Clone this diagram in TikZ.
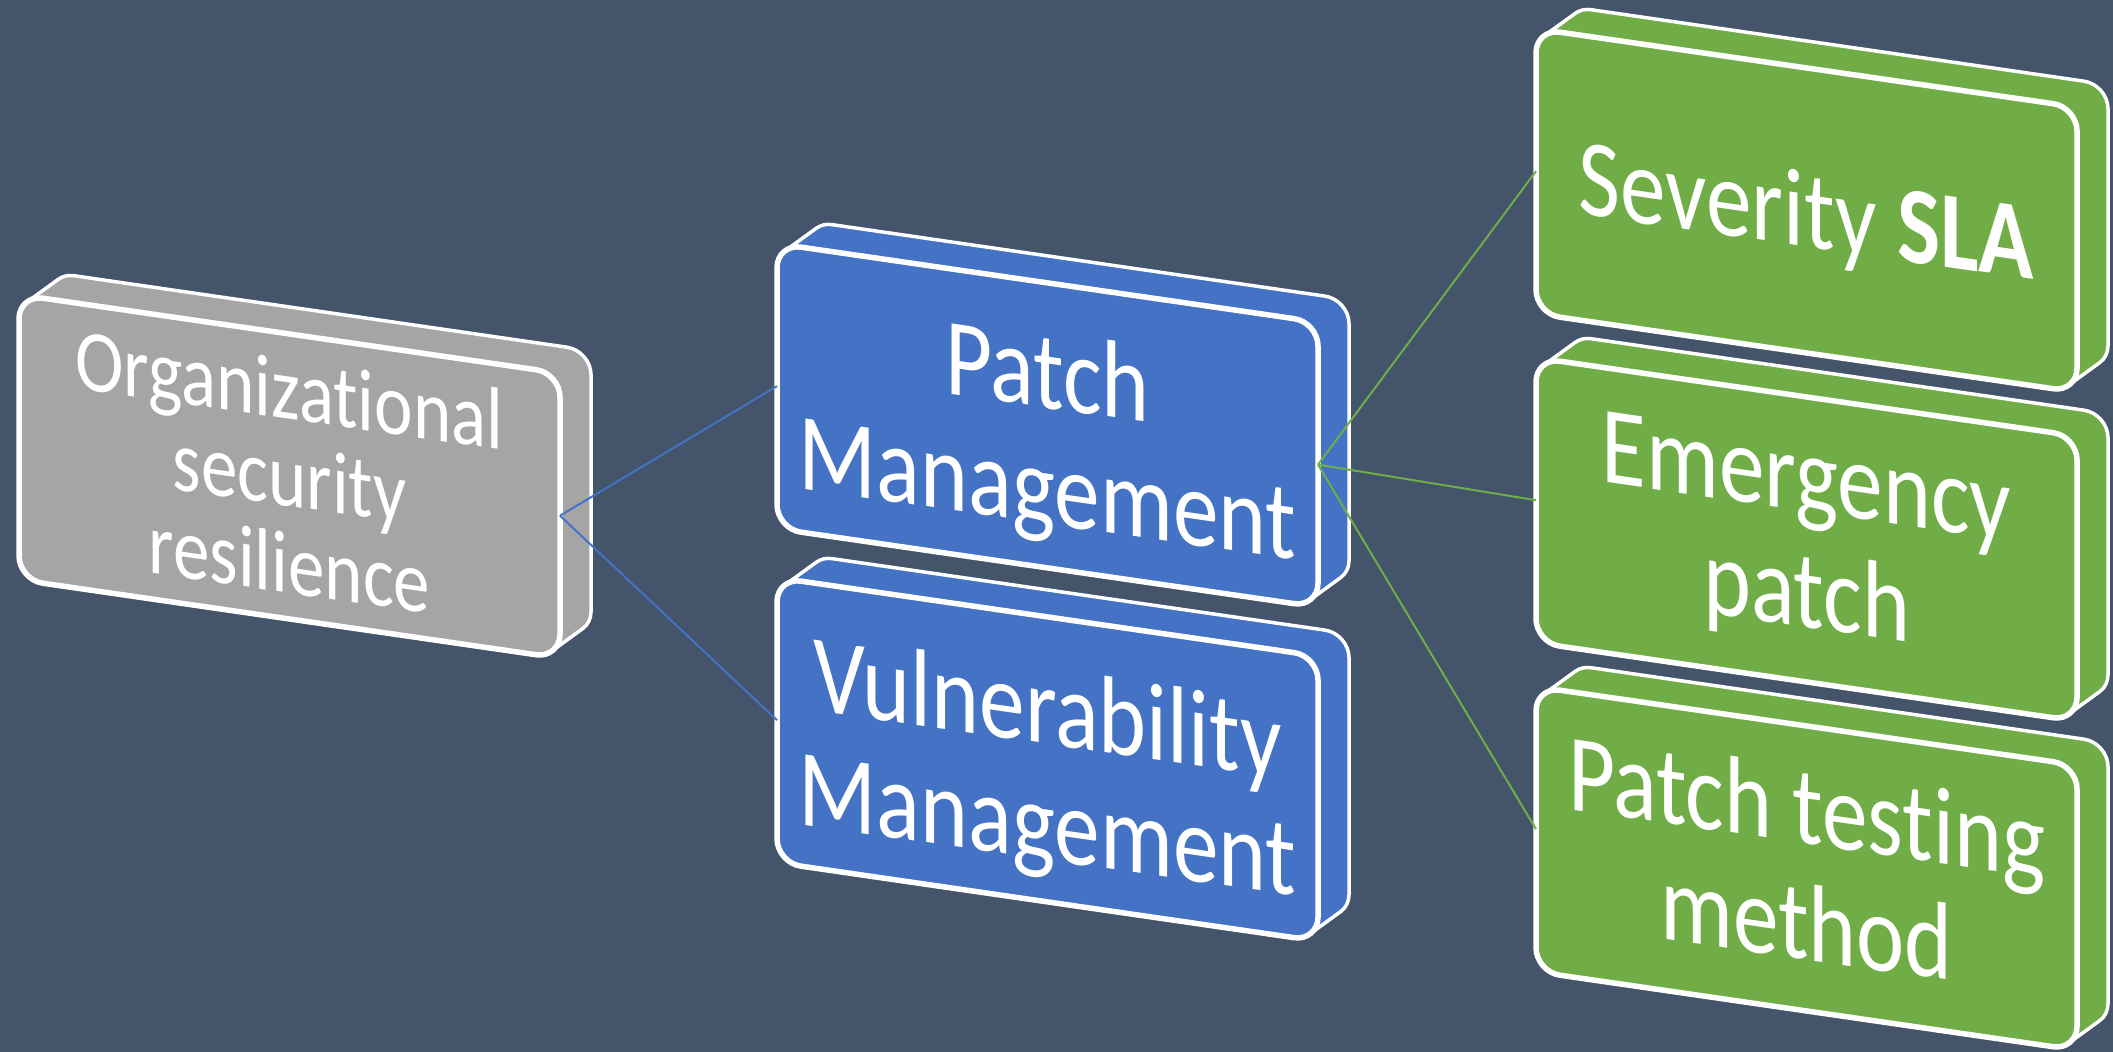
\documentclass[tikz,border=0pt]{standalone}
\usepackage{fontspec}
\setmainfont{Carlito}
\newfontfamily\slabfont[FakeStretch=0.83, Ligatures=NoCommon]{Carlito}
\definecolor{bgslate}{HTML}{44546A}
\definecolor{slabgray}{HTML}{A5A5A5}
\definecolor{slabblue}{HTML}{4472C4}
\definecolor{slabgreen}{HTML}{70AD47}

% slab geometry in px: front face width/height, corner radius, depth offset
\def\slabW{541}\def\slabH{285}\def\slabR{24}
\def\slabDx{31}\def\slabDy{-27}
\def\slabNDx{-31}\def\slabNDy{27}

\tikzset{
  slabface/.style={draw=white, line width=2.75pt, rounded corners=12pt,
    minimum width=270.5pt, minimum height=142.5pt, inner sep=0pt,
    outer sep=0pt, transform shape},
  slabside/.style={draw=white, line width=1.75pt, line join=round},
  slabtext/.style={text=white, align=center, inner sep=0pt, transform shape},
  bigtext/.style={slabtext, font=\slabfont\fontsize{55}{58}\selectfont},
  midtext/.style={slabtext, font=\slabfont\fontsize{44}{43.5}\selectfont},
  bluelink/.style={draw=slabblue, line width=1pt},
  greenlink/.style={draw=slabgreen, line width=1pt},
}

% a rounded slab seen in perspective: extruded back part, then the front face
\newcommand\slab[4]{% name, left X, top Y, colour
  \pgfmathsetmacro\sxa{#2}\pgfmathsetmacro\sya{#3}%
  \pgfmathsetmacro\sxb{#2+\slabW}\pgfmathsetmacro\syb{#3+\slabH}%
  \path[slabside, fill=#4]
    (\sxa,\sya+\slabR) arc[start angle=180,end angle=228.9,radius=\slabR]
    -- ++(\slabDx,\slabDy) arc[start angle=228.9,end angle=270,radius=\slabR]
    -- (\sxb-\slabR+\slabDx,\sya+\slabDy) arc[start angle=270,end angle=360,radius=\slabR]
    -- (\sxb+\slabDx,\syb-\slabR+\slabDy) arc[start angle=0,end angle=48.9,radius=\slabR]
    -- ++(\slabNDx,\slabNDy) arc[start angle=48.9,end angle=90,radius=\slabR]
    -- (\sxa+\slabR,\syb) arc[start angle=90,end angle=180,radius=\slabR]
    -- cycle;
  \node[slabface, fill=#4] (#1) at ({#2+\slabW/2},{#3+\slabH/2}) {};
}

\begin{document}
\begin{tikzpicture}[x=0.5pt, y=-0.5pt]
  \useasboundingbox (0,0) rectangle (2113,1052);
  \fill[bgslate] (0,0) rectangle (2113,1052);

  \begin{scope}[cm={1,-0.145,0,1,(0,0)}]
    \slab{org}{19}{292}{slabgray}
    \node[midtext] (org-label) at (289.5,434) {Organizational\\security\\resilience};

    \slab{pm}{777}{131}{slabblue}
    \node[bigtext] (pm-label) at (1047.5,285.5) {Patch\\Management};

    \slab{vuln}{777}{465}{slabblue}
    \node[bigtext] (vuln-label) at (1047.5,621.5) {Vulnerability\\Management};

    \slab{sev}{1536}{-194}{slabgreen}
    \node[bigtext] (sev-label) at (1806.5,-44) {Severity \textbf{SLA}};

    \slab{emer}{1536}{135}{slabgreen}
    \node[bigtext] (emer-label) at (1806.5,281) {Emergency\\patch};

    \slab{ptest}{1536}{464}{slabgreen}
    \node[bigtext] (ptest-label) at (1806.5,602) {Patch testing\\method};
  \end{scope}

  % hierarchy connectors
  \draw[bluelink] (org.east) -- (pm.west);
  \draw[bluelink] (org.east) -- (vuln.west);
  \draw[greenlink] (pm.east) -- (sev.west);
  \draw[greenlink] (pm.east) -- (emer.west);
  \draw[greenlink] (pm.east) -- (ptest.west);
\end{tikzpicture}
\end{document}
